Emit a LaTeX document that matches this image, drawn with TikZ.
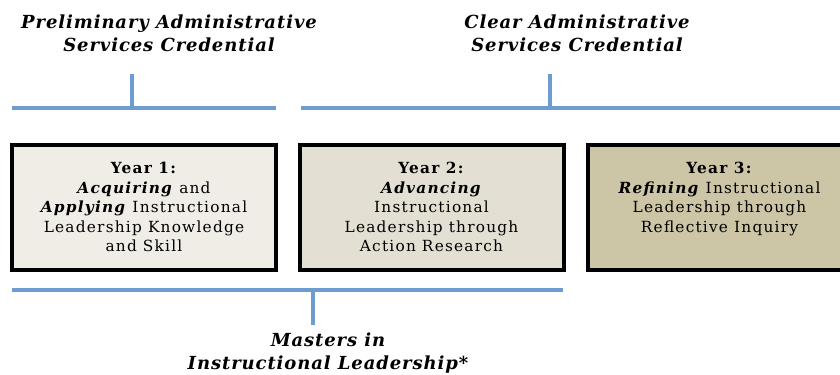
\documentclass[tikz,border=0pt]{standalone}
\usepackage{fontspec}
\setmainfont{DejaVu Serif}
\usetikzlibrary{positioning}
\definecolor{bracketblue}{HTML}{6E9CD0}
\definecolor{yearone}{HTML}{F0EDE6}
\definecolor{yeartwo}{HTML}{E3E0D3}
\definecolor{yearthree}{HTML}{CCC5A6}

\begin{document}
\begin{tikzpicture}[x=0.75pt,y=-0.75pt,
      yearbox/.style={
         draw=black,
         line width=3pt,
         minimum width=198pt,
         minimum height=93.75pt,
         inner sep=0pt},
      yeartext/.style={
         align=center,
         anchor=north,
         font=\fontsize{11.5}{14.6}\selectfont\addfontfeatures{LetterSpace=8}},
      heading/.style={
         align=center,
         font=\fontsize{13.5}{17}\selectfont\bfseries\itshape\addfontfeatures{LetterSpace=5}},
      bracket/.style={draw=bracketblue, line width=3pt}
      ]
      \useasboundingbox (0,0) rectangle (840,375);
      \clip (0,0) rectangle (840,375);

      % the three years
      \node[yearbox, fill=yearone] (box1) at (144,207.5) {};
      \node[yearbox, fill=yeartwo] (box2) at (431.5,207.5) {};
      \node[yearbox, fill=yearthree] (box3) at (719.5,207.5) {};

      \node[yeartext, below=11pt of box1.north] (txt1)
         {\textbf{Year 1:}\\\textbf{\textit{Acquiring}} and\\\textbf{\textit{Applying}} Instructional\\Leadership Knowledge\\and Skill};
      \node[yeartext, below=11pt of box2.north] (txt2)
         {\textbf{Year 2:}\\\textbf{\textit{Advancing}}\\Instructional\\Leadership through\\Action Research};
      \node[yeartext, below=11pt of box3.north] (txt3)
         {\textbf{Year 3:}\\\textbf{\textit{Refining}} Instructional\\Leadership through\\Reflective Inquiry};

      % credentials
      \node[heading] (prelim) at (169,33.5) {Preliminary Administrative\\Services Credential};
      \node[heading] (clear) at (577,33.5) {Clear Administrative\\Services Credential};
      \node[heading] (masters) at (328,353) {Masters in\\Instructional Leadership*};

      \coordinate (pl) at (12,108);
      \coordinate (pr) at (276,108);
      \coordinate (pm) at (132,108);
      \coordinate (pt) at (132,74);
      \coordinate (cl) at (301,108);
      \coordinate (cr) at (850,108);
      \coordinate (cm) at (550,108);
      \coordinate (ct) at (550,74);
      \coordinate (ml) at (12,290);
      \coordinate (mr) at (563,290);
      \coordinate (mm) at (313,290);
      \coordinate (mb) at (313,325);

      \foreach \i/\j in {pl/pr, pt/pm, cl/cr, ct/cm, ml/mr, mm/mb}
         \draw[bracket] (\i) -- (\j);
\end{tikzpicture}
\end{document}
